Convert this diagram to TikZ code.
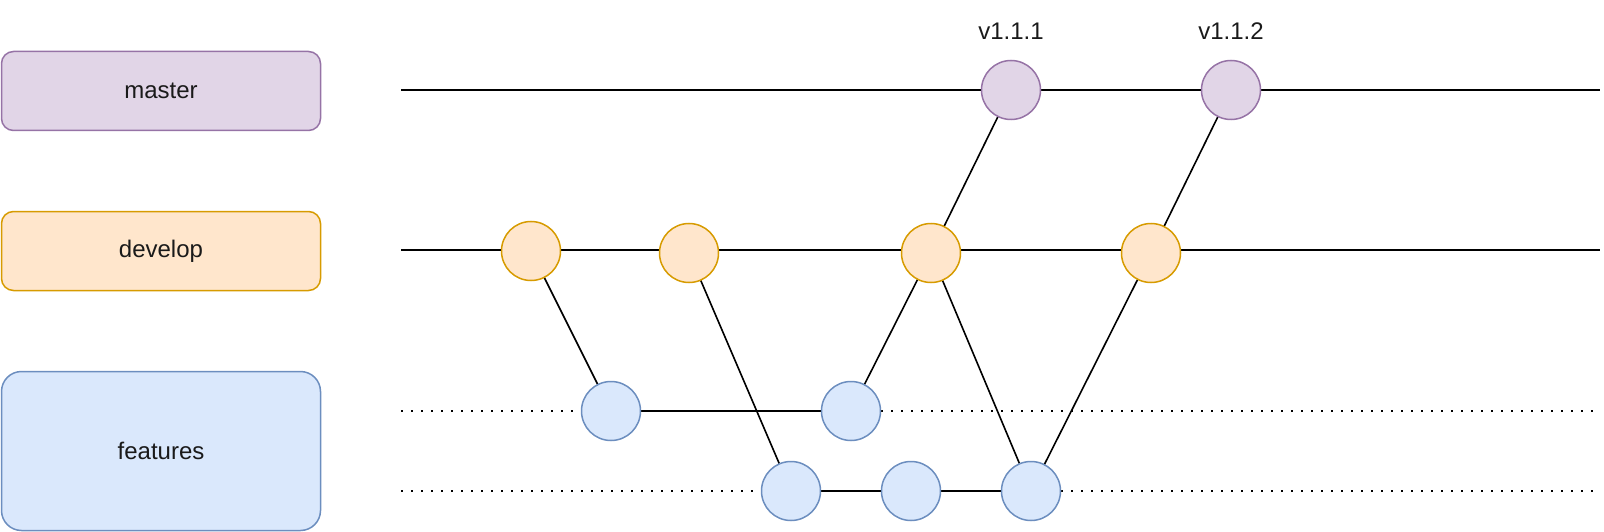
\documentclass[tikz,border=0pt]{standalone}
\usepackage{fontspec}
\setmainfont{Liberation Sans}
\definecolor{mfill}{HTML}{E1D5E7}\definecolor{mdraw}{HTML}{9673A6}
\definecolor{dfill}{HTML}{FFE6CC}\definecolor{ddraw}{HTML}{D79B00}
\definecolor{ffill}{HTML}{DAE8FC}\definecolor{fdraw}{HTML}{6C8EBF}
\definecolor{txt}{HTML}{1A1A1A}
\pgfdeclarelayer{bg}
\pgfsetlayers{bg,main}
\begin{document}
\begin{tikzpicture}[x=1pt,y=-1pt,
  every node/.style={font=\fontsize{24}{28}\selectfont, text=txt},
  lane/.style={draw, rounded corners=12pt, line width=1.5pt, minimum width=319pt, inner sep=0pt},
  commit/.style={circle, draw, line width=1.5pt, minimum size=59pt, inner sep=0pt},
  mc/.style={commit, fill=mfill, draw=mdraw},
  dc/.style={commit, fill=dfill, draw=ddraw},
  fc/.style={commit, fill=ffill, draw=fdraw},
  edge/.style={line width=1.6pt, black},
  dots/.style={line width=1.6pt, black, dash pattern=on 1.6pt off 8.4pt}]
\useasboundingbox (0,0) rectangle (1604,532);
% lane labels
\node[lane, fill=mfill, draw=mdraw, minimum height=79pt] (lm) at (161,91) {master};
\node[lane, fill=dfill, draw=ddraw, minimum height=79pt] (ld) at (161,251) {develop};
\node[lane, fill=ffill, draw=fdraw, minimum height=159pt, rounded corners=20pt] (lf) at (161,451) {features};
% commits
\node[mc] (m1) at (1011,90) {};
\node[mc] (m2) at (1231,90) {};
\node[dc] (d1) at (531,251) {};
\node[dc] (d2) at (689,253) {};
\node[dc] (d3) at (931,253) {};
\node[dc] (d4) at (1151,253) {};
\node[fc] (fa) at (611,411) {};
\node[fc] (fb) at (851,411) {};
\node[fc] (fc) at (791,491) {};
\node[fc] (fd) at (911,491) {};
\node[fc] (fe) at (1031,491) {};
% version labels
\node (t1) at (1011,31) {v1.1.1};
\node (t2) at (1231,31) {v1.1.2};
% line ends
\coordinate (ms) at (401,90); \coordinate (me) at (1600,90);
\coordinate (ds) at (401,250); \coordinate (de) at (1600,250);
\coordinate (f1s) at (401,411); \coordinate (f1e) at (1594,411);
\coordinate (f2s) at (401,491); \coordinate (f2e) at (1594,491);
\begin{pgfonlayer}{bg}
\draw[edge] (ms) -- (me);
\draw[edge] (ds) -- (de);
\draw[dots] (f1s) -- (fa.west);
\draw[dots] (fb.east) -- (f1e);
\draw[dots] (f2s) -- (fc.west);
\draw[dots] (fe.east) -- (f2e);
\draw[edge] (d1.center) -- (fa.center);
\draw[edge] (d2.center) -- (fc.center);
\draw[edge] (fa.center) -- (fb.center);
\draw[edge] (fb.center) -- (d3.center);
\draw[edge] (d3.center) -- (m1.center);
\draw[edge] (d3.center) -- (fe.center);
\draw[edge] (fc.center) -- (fd.center) -- (fe.center);
\draw[edge] (fe.center) -- (d4.center);
\draw[edge] (d4.center) -- (m2.center);
\end{pgfonlayer}
\end{tikzpicture}
\end{document}
